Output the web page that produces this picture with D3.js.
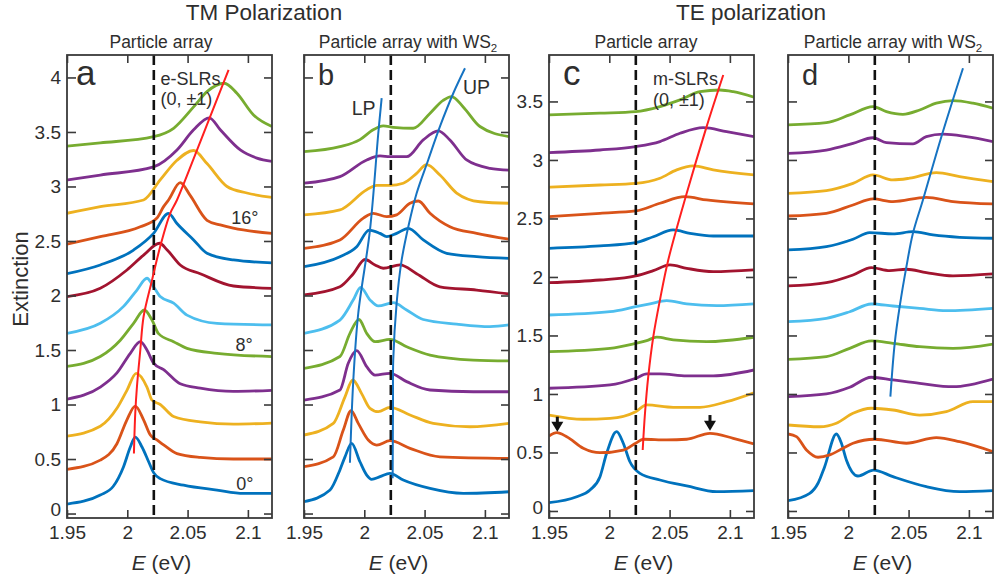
<!DOCTYPE html>
<html>
<head>
<meta charset="utf-8">
<script src="https://cdn.jsdelivr.net/npm/d3@7"></script>
<style>
  body { margin: 0; background: #fff; }
  svg { display: block; }
  text { font-family: "Liberation Sans", Arial, Helvetica, sans-serif; fill: #2e2e2e; }
</style>
</head>
<body>
<svg id="chart" width="994" height="584"></svg>
<script>
// ---- data -------------------------------------------------------------
const energyTicks = [1.95, 2, 2.05, 2.1];
const tmExtinctionTicks = [0, 0.5, 1, 1.5, 2, 2.5, 3, 3.5, 4];
const teExtinctionTicks = [0, 0.5, 1, 1.5, 2, 2.5, 3, 3.5];
const seriesColors = ["#0072BD", "#D95319", "#EDB120", "#7E2F8E", "#77AC30", "#4DBEEE", "#A2142F"];
const excitonEnergy = 2.022;

// TM, bare particle array: angles 0..22 deg, offset spectra [E (eV), extinction]
const tmBareSpectra = [
  [[1.95,0.087],[1.9776,0.17],[1.9884,0.25],[1.9969,0.43],[2.0025,0.61],[2.0066,0.70],[2.0122,0.61],[2.0177,0.475],[2.0218,0.375],[2.0273,0.32],[2.0467,0.26],[2.0744,0.215],[2.0964,0.185],[2.12,0.185]],
  [[1.95,0.405],[1.9776,0.49],[1.9914,0.64],[1.9997,0.86],[2.0066,0.986],[2.0135,0.86],[2.0191,0.72],[2.0246,0.675],[2.0301,0.63],[2.0412,0.55],[2.0605,0.515],[2.0879,0.50],[2.12,0.50]],
  [[1.95,0.71],[1.9776,0.80],[1.9914,0.965],[1.9997,1.13],[2.0074,1.286],[2.0163,1.16],[2.0205,1.04],[2.0273,1.0],[2.0384,0.89],[2.0605,0.84],[2.0881,0.82],[2.12,0.83]],
  [[1.95,1.05],[1.9776,1.16],[1.9914,1.29],[2.0025,1.47],[2.0108,1.576],[2.0163,1.50],[2.0218,1.38],[2.0301,1.32],[2.0439,1.19],[2.0605,1.15],[2.0879,1.12],[2.12,1.13]],
  [[1.95,1.35],[1.9776,1.44],[1.9942,1.59],[2.0052,1.745],[2.0141,1.867],[2.0205,1.775],[2.0259,1.65],[2.0384,1.576],[2.0495,1.515],[2.0744,1.47],[2.12,1.44]],
  [[1.95,1.653],[1.9776,1.745],[1.9969,1.90],[2.008,2.05],[2.0163,2.158],[2.0218,2.08],[2.0273,1.99],[2.0384,1.93],[2.0495,1.82],[2.0744,1.745],[2.12,1.73]],
  [[1.95,1.99],[1.9776,2.066],[1.9997,2.234],[2.0135,2.37],[2.0268,2.479],[2.0329,2.42],[2.0439,2.28],[2.0605,2.20],[2.0881,2.087],[2.12,2.066]],
  [[1.95,2.20],[1.9776,2.28],[2.0052,2.417],[2.0218,2.57],[2.0342,2.754],[2.0412,2.66],[2.055,2.51],[2.0661,2.387],[2.0881,2.326],[2.12,2.30]],
  [[1.95,2.47],[1.9776,2.54],[2.0108,2.63],[2.0246,2.71],[2.0301,2.815],[2.0342,2.876],[2.0439,3.035],[2.052,2.92],[2.0661,2.69],[2.0771,2.647],[2.0879,2.617],[2.12,2.57]],
  [[1.95,2.754],[1.9776,2.815],[2.0135,2.876],[2.0273,3.06],[2.0412,3.24],[2.055,3.33],[2.0661,3.21],[2.0827,3.0],[2.0992,2.94],[2.12,2.90]],
  [[1.95,3.06],[1.9776,3.105],[2.0218,3.18],[2.0412,3.335],[2.055,3.52],[2.068,3.63],[2.0771,3.52],[2.0937,3.335],[2.1075,3.26],[2.12,3.23]],
  [[1.95,3.37],[1.9776,3.40],[2.0218,3.457],[2.0384,3.534],[2.055,3.73],[2.0661,3.87],[2.0804,3.947],[2.0909,3.855],[2.1047,3.656],[2.12,3.55]]
];

// TM, particle array with WS2
const tmWs2Spectra = [
  [[1.95,0.108],[1.9716,0.216],[1.9798,0.40],[1.984,0.52],[1.9895,0.644],[1.9964,0.475],[2.002,0.353],[2.0061,0.314],[2.013,0.338],[2.0213,0.369],[2.0323,0.307],[2.0545,0.23],[2.0821,0.185],[2.12,0.20]],
  [[1.95,0.43],[1.9743,0.52],[1.9826,0.766],[1.989,0.943],[1.995,0.827],[2.0033,0.674],[2.0103,0.628],[2.0213,0.668],[2.0379,0.598],[2.0627,0.52],[2.12,0.506]],
  [[1.95,0.72],[1.9743,0.827],[1.984,1.07],[1.9904,1.225],[1.9978,1.10],[2.0047,0.965],[2.0116,0.934],[2.0213,0.974],[2.0379,0.904],[2.0572,0.827],[2.0876,0.796],[2.12,0.827]],
  [[1.95,1.04],[1.9798,1.133],[1.9867,1.378],[1.9937,1.494],[2.002,1.347],[2.0089,1.27],[2.0213,1.286],[2.0351,1.21],[2.0545,1.133],[2.0903,1.117],[2.12,1.117]],
  [[1.95,1.332],[1.9798,1.44],[1.9881,1.653],[1.9956,1.78],[2.002,1.653],[2.0089,1.576],[2.0213,1.598],[2.0351,1.53],[2.0545,1.454],[2.0903,1.408],[2.12,1.40]],
  [[1.95,1.653],[1.9798,1.775],[1.9909,1.96],[1.997,2.075],[2.0047,1.96],[2.0116,1.904],[2.024,1.934],[2.0351,1.867],[2.0489,1.78],[2.0766,1.738],[2.1042,1.714],[2.12,1.73]],
  [[1.95,2.005],[1.9798,2.08],[1.9909,2.20],[2.0006,2.33],[2.0089,2.28],[2.0157,2.25],[2.0296,2.28],[2.0434,2.20],[2.0627,2.08],[2.0932,2.05],[2.12,2.014]],
  [[1.95,2.264],[1.9798,2.356],[1.9937,2.448],[2.0041,2.60],[2.013,2.57],[2.0186,2.54],[2.0268,2.57],[2.0365,2.616],[2.0489,2.51],[2.0683,2.387],[2.0932,2.356],[2.12,2.34]],
  [[1.95,2.433],[1.9798,2.51],[1.9992,2.71],[2.0074,2.754],[2.0186,2.723],[2.0268,2.74],[2.0379,2.846],[2.0448,2.867],[2.0545,2.754],[2.071,2.63],[2.0932,2.57],[2.12,2.516]],
  [[1.95,2.74],[1.9798,2.785],[2.002,2.97],[2.0103,3.01],[2.0213,3.01],[2.0323,3.03],[2.0434,3.12],[2.0517,3.20],[2.0627,3.105],[2.0766,2.94],[2.0959,2.86],[2.12,2.846]],
  [[1.95,3.03],[1.9798,3.09],[2.002,3.243],[2.013,3.28],[2.0213,3.273],[2.0351,3.273],[2.0489,3.427],[2.0613,3.51],[2.071,3.427],[2.0849,3.243],[2.1042,3.167],[2.12,3.15]],
  [[1.95,3.32],[1.9798,3.365],[1.9964,3.43],[2.0074,3.52],[2.0157,3.555],[2.024,3.543],[2.0406,3.534],[2.0544,3.67],[2.0654,3.79],[2.0724,3.824],[2.082,3.73],[2.0959,3.55],[2.12,3.457]]
];

// TE, bare particle array
const teBareSpectra = [
  [[1.95,0.071],[1.973,0.122],[1.984,0.179],[1.9923,0.293],[1.9978,0.493],[2.0061,0.678],[2.0116,0.579],[2.0171,0.421],[2.0254,0.322],[2.042,0.265],[2.0642,0.214],[2.089,0.165],[2.12,0.174]],
  [[1.95,0.641],[1.9564,0.669],[1.9647,0.635],[1.9784,0.536],[1.9923,0.498],[2.0116,0.521],[2.0219,0.579],[2.0282,0.613],[2.0476,0.607],[2.0642,0.613],[2.0835,0.664],[2.1028,0.621],[2.12,0.573]],
  [[1.95,0.82],[1.9784,0.784],[2.0006,0.792],[2.0219,0.849],[2.031,0.906],[2.053,0.886],[2.0752,0.886],[2.0973,0.934],[2.12,1.011]],
  [[1.95,1.049],[2.0006,1.077],[2.0219,1.134],[2.031,1.171],[2.042,1.171],[2.0642,1.154],[2.0862,1.154],[2.12,1.205]],
  [[1.95,1.362],[2.0006,1.39],[2.0219,1.433],[2.031,1.456],[2.0393,1.485],[2.053,1.462],[2.0807,1.447],[2.12,1.485]],
  [[1.95,1.675],[2.0006,1.703],[2.0219,1.746],[2.0337,1.77],[2.0476,1.797],[2.0642,1.77],[2.089,1.755],[2.12,1.77]],
  [[1.95,1.951],[1.9923,1.974],[2.0219,2.009],[2.0365,2.054],[2.0503,2.103],[2.0642,2.074],[2.0862,2.045],[2.12,2.06]],
  [[1.95,2.245],[1.9923,2.265],[2.0219,2.293],[2.0365,2.344],[2.053,2.402],[2.0669,2.373],[2.0862,2.35],[2.12,2.35]],
  [[1.95,2.515],[1.9923,2.544],[2.0219,2.564],[2.042,2.63],[2.0627,2.686],[2.0807,2.658],[2.12,2.624]],
  [[1.95,2.767],[1.9923,2.786],[2.0219,2.80],[2.042,2.844],[2.0559,2.915],[2.0696,2.949],[2.0862,2.915],[2.12,2.872]],
  [[1.95,3.063],[1.9923,3.085],[2.0219,3.114],[2.042,3.157],[2.0586,3.228],[2.0779,3.276],[2.0973,3.242],[2.12,3.20]],
  [[1.95,3.385],[1.9923,3.40],[2.0219,3.413],[2.042,3.456],[2.0586,3.513],[2.0752,3.584],[2.0918,3.598],[2.1028,3.584],[2.12,3.536]]
];

// TE, particle array with WS2
const teWs2Spectra = [
  [[1.95,0.088],[1.968,0.151],[1.9749,0.237],[1.9804,0.379],[1.9901,0.658],[1.9943,0.579],[1.9984,0.436],[2.008,0.299],[2.021,0.35],[2.037,0.293],[2.0647,0.208],[2.0923,0.165],[2.12,0.174]],
  [[1.95,0.658],[1.957,0.635],[1.9653,0.521],[1.9749,0.459],[1.9846,0.479],[1.9956,0.536],[2.0039,0.579],[2.0219,0.613],[2.0482,0.579],[2.073,0.627],[2.0923,0.592],[2.12,0.507]],
  [[1.95,0.735],[1.9763,0.72],[1.9901,0.75],[2.0039,0.835],[2.0191,0.878],[2.037,0.863],[2.0592,0.82],[2.0813,0.849],[2.1034,0.934],[2.12,0.934]],
  [[1.95,0.977],[1.9818,1.00],[2.0012,1.057],[2.0191,1.143],[2.037,1.12],[2.0592,1.091],[2.0868,1.062],[2.12,1.128]],
  [[1.95,1.296],[1.9818,1.319],[2.0012,1.39],[2.0191,1.453],[2.037,1.433],[2.0592,1.404],[2.0868,1.39],[2.12,1.427]],
  [[1.95,1.618],[1.9818,1.647],[2.0012,1.703],[2.0191,1.769],[2.037,1.752],[2.0592,1.732],[2.0813,1.712],[2.12,1.732]],
  [[1.95,1.923],[1.9818,1.951],[2.0039,2.017],[2.0191,2.08],[2.0343,2.054],[2.0482,2.066],[2.0647,2.037],[2.0868,2.009],[2.12,2.026]],
  [[1.95,2.231],[1.9818,2.259],[2.0039,2.322],[2.0177,2.379],[2.037,2.368],[2.0536,2.387],[2.0702,2.359],[2.0923,2.339],[2.12,2.331]],
  [[1.95,2.521],[1.9818,2.544],[2.0039,2.615],[2.0205,2.667],[2.037,2.644],[2.0647,2.681],[2.0868,2.644],[2.12,2.624]],
  [[1.95,2.715],[1.9818,2.738],[2.0039,2.80],[2.0205,2.872],[2.037,2.829],[2.0509,2.844],[2.073,2.892],[2.0923,2.858],[2.12,2.815]],
  [[1.95,3.057],[1.9818,3.085],[2.0039,3.142],[2.0205,3.19],[2.0316,3.148],[2.0536,3.137],[2.0647,3.199],[2.0785,3.22],[2.0979,3.199],[2.12,3.157]],
  [[1.95,3.30],[1.9818,3.319],[2.0012,3.385],[2.0205,3.456],[2.0316,3.413],[2.0453,3.39],[2.0592,3.427],[2.073,3.485],[2.0868,3.507],[2.1034,3.485],[2.12,3.442]]
];

// dispersion guides [E (eV), extinction]
const tmSlrBranch = [[2.0055,0.55],[2.0066,0.92],[2.008,1.163],[2.0108,1.50],[2.0135,1.805],[2.0205,2.14],[2.0273,2.45],[2.0356,2.754],[2.0412,2.876],[2.0605,3.41],[2.084,4.07]];
const tmLowerPolariton = [[1.9881,0.466],[1.9909,1.225],[1.995,1.837],[2.0047,2.60],[2.0116,3.488],[2.0144,3.81]];
const tmUpperPolariton = [[2.0235,0.323],[2.0238,1.0],[2.024,1.408],[2.0268,1.928],[2.031,2.326],[2.0365,2.631],[2.0434,2.938],[2.053,3.243],[2.0627,3.549],[2.0738,3.855],[2.0835,4.084]];
const teSlrBranch = [[2.0277,0.521],[2.0296,0.835],[2.0323,1.148],[2.0365,1.49],[2.042,1.803],[2.0489,2.145],[2.0642,2.715],[2.0807,3.285],[2.0945,3.726]];
const teUpperBranch = [[2.0349,0.977],[2.0385,1.433],[2.0426,1.746],[2.0482,2.088],[2.0536,2.373],[2.0619,2.658],[2.0772,3.199],[2.0951,3.784]];

// arrows marking the two TE features: [E, tail, tip]
const teArrowMarks = [[1.9569, 0.806, 0.678], [2.0835, 0.82, 0.686]];

// ---- layout -----------------------------------------------------------
const svg = d3.select("#chart");
const plotTop = 55, plotBottom = 518, plotWidth = 205;
const axisColor = "#3a3a3a";
const tmDomain = [-0.041, 4.206];
const teDomain = [-0.06, 3.897];

const panels = [
  { id: "a", left: 67,  spectra: tmBareSpectra, yDomain: tmDomain, yTicks: tmExtinctionTicks, yLabels: true,
    subtitle: "Particle array", ws2: false, subtitleX: 161, letterSize: 35,
    guides: [{ pts: tmSlrBranch, color: "#ff1f1f" }],
    notes: [
      { text: "e-SLRs", at: [2.0275, 3.927], size: 18 },
      { text: "(0, \u00b11)", at: [2.0275, 3.745], size: 18 },
      { text: "16\u00b0", at: [2.0862, 2.66], size: 18 },
      { text: "8\u00b0", at: [2.0897, 1.49], size: 18 },
      { text: "0\u00b0", at: [2.0904, 0.216], size: 18 }
    ] },
  { id: "b", left: 304, spectra: tmWs2Spectra, yDomain: tmDomain, yTicks: tmExtinctionTicks, yLabels: false,
    subtitle: "Particle array with WS", ws2: true, subtitleX: 408, letterSize: 29,
    guides: [{ pts: tmLowerPolariton, color: "#1673c2" }, { pts: tmUpperPolariton, color: "#1673c2" }],
    notes: [
      { text: "LP", at: [1.9895, 3.656], size: 19.5 },
      { text: "UP", at: [2.0818, 3.849], size: 19.5 }
    ] },
  { id: "c", left: 549, spectra: teBareSpectra, yDomain: teDomain, yTicks: teExtinctionTicks, yLabels: true,
    subtitle: "Particle array", ws2: false, subtitleX: 646, letterSize: 35,
    guides: [{ pts: teSlrBranch, color: "#ff1f1f" }],
    notes: [
      { text: "m-SLRs", at: [2.0362, 3.637], size: 18 },
      { text: "(0, \u00b11)", at: [2.0362, 3.465], size: 18 }
    ],
    arrows: teArrowMarks },
  { id: "d", left: 788, spectra: teWs2Spectra, yDomain: teDomain, yTicks: teExtinctionTicks, yLabels: false,
    subtitle: "Particle array with WS", ws2: true, subtitleX: 893, letterSize: 29,
    guides: [{ pts: teUpperBranch, color: "#1673c2" }],
    notes: [] }
];

// ---- titles -----------------------------------------------------------
svg.append("text").attr("x", 264).attr("y", 20).attr("text-anchor", "middle")
  .attr("font-size", 22.5).text("TM Polarization");
svg.append("text").attr("x", 751).attr("y", 20).attr("text-anchor", "middle")
  .attr("font-size", 22.5).text("TE polarization");

svg.append("text").attr("transform", "translate(28,279) rotate(-90)")
  .attr("text-anchor", "middle").attr("font-size", 22).text("Extinction");

// ---- panels -----------------------------------------------------------
panels.forEach(p => {
  const x = d3.scaleLinear().domain([1.95, 2.12]).range([p.left, p.left + plotWidth]);
  const y = d3.scaleLinear().domain(p.yDomain).range([plotBottom, plotTop]);
  const g = svg.append("g");

  const clipId = "clip-" + p.id;
  svg.append("defs").append("clipPath").attr("id", clipId)
    .append("rect").attr("x", p.left).attr("y", plotTop)
    .attr("width", plotWidth).attr("height", plotBottom - plotTop);

  const plot = g.append("g").attr("clip-path", `url(#${clipId})`);

  const spectrumLine = d3.line().x(d => x(d[0])).y(d => y(d[1])).curve(d3.curveMonotoneX);
  plot.selectAll("path.spectrum").data(p.spectra).join("path")
    .attr("class", "spectrum")
    .attr("d", spectrumLine)
    .attr("fill", "none")
    .attr("stroke", (d, i) => seriesColors[i % seriesColors.length])
    .attr("stroke-width", 2.8)
    .attr("stroke-linejoin", "round");

  // exciton energy marker
  plot.append("line")
    .attr("x1", x(excitonEnergy)).attr("x2", x(excitonEnergy))
    .attr("y1", plotTop).attr("y2", plotBottom)
    .attr("stroke", "#111").attr("stroke-width", 2.6)
    .attr("stroke-dasharray", "10,5");

  const guideLine = d3.line().x(d => x(d[0])).y(d => y(d[1])).curve(d3.curveCatmullRom.alpha(0.5));
  p.guides.forEach(gd => {
    plot.append("path").attr("d", guideLine(gd.pts))
      .attr("fill", "none").attr("stroke", gd.color).attr("stroke-width", 2);
  });

  if (p.arrows) {
    p.arrows.forEach(a => {
      const ax = x(a[0]), tail = y(a[1]), tip = y(a[2]);
      plot.append("line").attr("x1", ax).attr("x2", ax).attr("y1", tail).attr("y2", tip - 8)
        .attr("stroke", "#111").attr("stroke-width", 3);
      plot.append("path")
        .attr("d", `M${ax - 6},${tip - 10}L${ax + 6},${tip - 10}L${ax},${tip}Z`)
        .attr("fill", "#111");
    });
  }

  p.notes.forEach(n => {
    g.append("text").attr("x", x(n.at[0])).attr("y", y(n.at[1]))
      .attr("font-size", n.size).text(n.text);
  });

  // axes: inward ticks on all four sides
  const styleAxis = sel => {
    sel.select(".domain").remove();
    sel.selectAll(".tick line").attr("stroke", axisColor).attr("stroke-width", 1.6);
    sel.selectAll(".tick text").attr("fill", "#2e2e2e");
    sel.attr("font-family", "\"Liberation Sans\", Arial, sans-serif").attr("font-size", 19);
  };
  const leftAxis = g.append("g").attr("transform", `translate(${p.left},0)`)
    .call(d3.axisLeft(y).tickValues(p.yTicks).tickSize(-9).tickPadding(6)
      .tickFormat(p.yLabels ? d => String(d) : () => ""))
    .call(styleAxis);
  // the zero label sits a little above its tick, clear of the energy labels
  leftAxis.selectAll(".tick text").filter(d => d === 0).attr("y", -4);

  g.append("g").attr("transform", `translate(${p.left + plotWidth},0)`)
    .call(d3.axisRight(y).tickValues(p.yTicks).tickSize(-8).tickFormat(() => ""))
    .call(styleAxis);
  g.append("g").attr("transform", `translate(0,${plotTop})`)
    .call(d3.axisTop(x).tickValues(energyTicks).tickSize(-8).tickFormat(() => ""))
    .call(styleAxis);
  g.append("g").attr("transform", `translate(0,${plotBottom})`)
    .call(d3.axisBottom(x).tickValues(energyTicks).tickSize(-8).tickPadding(8)
      .tickFormat(d => String(d)))
    .call(styleAxis);

  g.append("rect").attr("x", p.left).attr("y", plotTop)
    .attr("width", plotWidth).attr("height", plotBottom - plotTop)
    .attr("fill", "none").attr("stroke", axisColor).attr("stroke-width", 1.8);

  // panel letter
  g.append("text").attr("x", p.left + (p.id === "a" ? 9 : 14)).attr("y", 85)
    .attr("font-size", p.letterSize).text(p.id);

  // subtitle
  const sub = svg.append("text").attr("x", p.subtitleX).attr("y", 48)
    .attr("text-anchor", "middle").attr("font-size", 17.5).text(p.subtitle);
  if (p.ws2) sub.append("tspan").attr("font-size", 11.5).attr("dy", 4).text("2");

  // x label
  const xl = svg.append("text").attr("x", p.left + plotWidth / 2 - 8).attr("y", 570)
    .attr("text-anchor", "middle").attr("font-size", 21);
  xl.append("tspan").attr("font-style", "italic").text("E");
  xl.append("tspan").text(" (eV)");
});
</script>
</body>
</html>
